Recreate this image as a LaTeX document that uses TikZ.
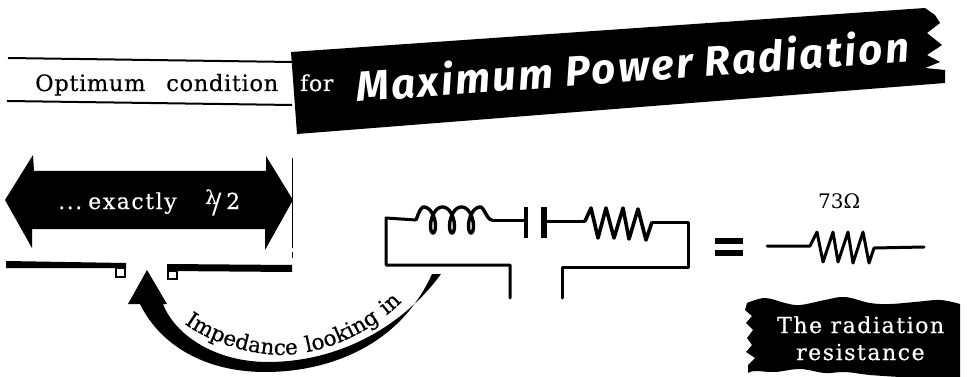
\documentclass[tikz,border=0pt]{standalone}
\usepackage{fontspec}
\usetikzlibrary{decorations.text}
\setmainfont{DejaVu Serif}
\newfontfamily\titlef[LetterSpace=6]{Fira Sans Bold Italic}
\newfontfamily\semi[FakeBold=0.5,LetterSpace=3]{DejaVu Serif}
\newfontfamily\semiw[FakeBold=0.5,LetterSpace=7]{DejaVu Serif}
\tikzset{
  x=1pt,y=-1pt,
  wire/.style={line width=3pt,black,line join=round,line cap=round},
  thinwire/.style={line width=2pt,black},
  ink/.style={fill=black,draw=none},
  inv/.style={text=white,inner sep=0pt,anchor=base west},
  lbl/.style={text=black,inner sep=0pt,anchor=base west},
}
\begin{document}
\begin{tikzpicture}
\useasboundingbox (0,0) rectangle (967,377);
% banner
\fill[ink] (291,52) -- (925,8) -- (935,15) -- (940,23) -- (927,33) -- (942,45) -- (927,55) -- (940,62) -- (925,68) -- (945,70) -- (945,83) -- (297,134) -- cycle;
\draw[thinwire] (8,58) -- (292,62);
\draw[thinwire] (7,101) -- (292,105);
\node[lbl,font=\semi\fontsize{22.5}{24}\selectfont] (opt) at (35,91) {Optimum\hspace{13pt} condition};
\node[inv,font=\semi\fontsize{22}{24}\selectfont] (for) at (300,91) {for};
\node[inv,rotate=4.2,font=\titlef\fontsize{42}{44}\selectfont] (title) at (357,102) {Maximum Power Radiation};
% double arrow
\fill[ink] (5,200) -- (33,155) -- (34,171) -- (266,171) -- (266,156) -- (293,200) -- (265,250) -- (265,229) -- (32,229) -- (32,248) -- cycle;
\node[inv,font=\semiw\fontsize{22}{24}\selectfont] (ex) at (58,209) {...\hspace{6pt}exactly};
\node[inv,font=\semi\fontsize{19}{20}\selectfont] (lam) at (205,204) {λ};
\node[inv,font=\fontsize{28}{30}\selectfont] (half) at (212,214) {/};
\node[inv,font=\semi\fontsize{22}{24}\selectfont] (two) at (226,209) {2};
\draw[line width=1pt] (292,158) -- (292,248);
\draw[line width=1pt] (292,252) -- (292,258);
% dipole
\fill[ink] (6,261) -- (126,263) -- (126,268) -- (6,268) -- cycle;
\fill[ink] (167,264) -- (292,265) -- (292,272) -- (167,271) -- cycle;
\draw[line width=1.8pt] (116,268) rectangle (125,277);
\draw[line width=1.8pt] (168,271) rectangle (177,279);
% curved arrow
\fill[ink] (147,270) -- (167,304) -- (163,304)
  .. controls (175,335) and (215,362) .. (268,362)
  .. controls (335,362) and (400,330) .. (441,274)
  -- (432,274)
  .. controls (400,345) and (330,372) .. (265,372)
  .. controls (205,372) and (160,345) .. (140,304)
  -- (128,304) -- cycle;
\path[decorate,decoration={text along path,text align=center,
  text={|\semiw\fontsize{21.5}{22}\selectfont|Impedance looking in}}]
  (170,312) .. controls (200,340) and (245,355) .. (285,355)
  .. controls (335,352) and (385,325) .. (414,288);
% circuit
\coordinate (tl) at (386,218);
\coordinate (bl) at (386,265);
\coordinate (la) at (416,220);
\coordinate (lb) at (492,220);
\coordinate (c1) at (526,220);
\coordinate (c2) at (544,221);
\coordinate (ra) at (585,221);
\coordinate (rb) at (652,222);
\coordinate (tr) at (688,222);
\coordinate (br) at (688,267);
\coordinate (fl) at (510,265);
\coordinate (fr) at (562,267);
\coordinate (fle) at (510,298);
\coordinate (fre) at (562,298);
\draw[wire] (la) -- (tl) -- (bl) -- (fl) -- (fle);
\draw[wire] (rb) -- (tr) -- (br) -- (fr) -- (fre);
\draw[line width=3.4pt,line join=round] (la) .. controls (419,212) and (421,207) .. (423.5,207)
  -- plot[domain=-180:900,samples=150,smooth] ({433+\x/360*19-6.5*sin(\x)},{220+13*cos(\x)})
  .. controls (484,207) and (487,220) .. (lb);
\draw[wire] (lb) -- (c1);
\draw[line width=3.4pt] (526,207) -- (526,238);
\draw[line width=6pt] (544,207) -- (544,238);
\draw[wire] (c2) -- (ra);
\draw[line width=3.6pt,line join=round] (ra) -- (591,208) -- (598,238) -- (606,208) -- (614,238) -- (623,208) -- (629,239) -- (638,209) -- (646,240) -- (rb);
% equals
\fill[ink] (715,238) rectangle (743,244);
\fill[ink] (715,250) rectangle (743,256);
% equivalent resistor
\coordinate (qa) at (767,246);
\coordinate (qb) at (924,247);
\draw[wire] (qa) -- (810,246) -- (817,232) -- (823,262) -- (833,232) -- (838,262) -- (848,232) -- (853,263) -- (863,232) -- (869,263) -- (874,248) -- (qb);
\node[lbl,font=\fontsize{20}{22}\selectfont] (ohm) at (818,208) {73Ω};
% black tag
\fill[ink] plot[smooth,tension=0.6] coordinates {(747,303) (765,298) (785,303) (800,305) (825,300) (845,297) (870,303) (890,304) (915,302) (940,300) (960,304)}
 -- (960,377)
 -- plot[smooth,tension=0.6] coordinates {(900,377) (870,375) (845,372) (825,373) (800,369) (775,372) (755,371) (748,373)}
 -- (748,365) -- (755,358) -- (746,352) -- (752,345) -- (747,338) -- (753,330) -- (746,323) -- (752,316) -- (745,310) -- cycle;
\node[inv,font=\semiw\fontsize{22}{24}\selectfont] (t1) at (777,333) {The radiation};
\node[inv,font=\semiw\fontsize{22}{24}\selectfont] (t2) at (796,360) {resistance};
\end{tikzpicture}
\end{document}
